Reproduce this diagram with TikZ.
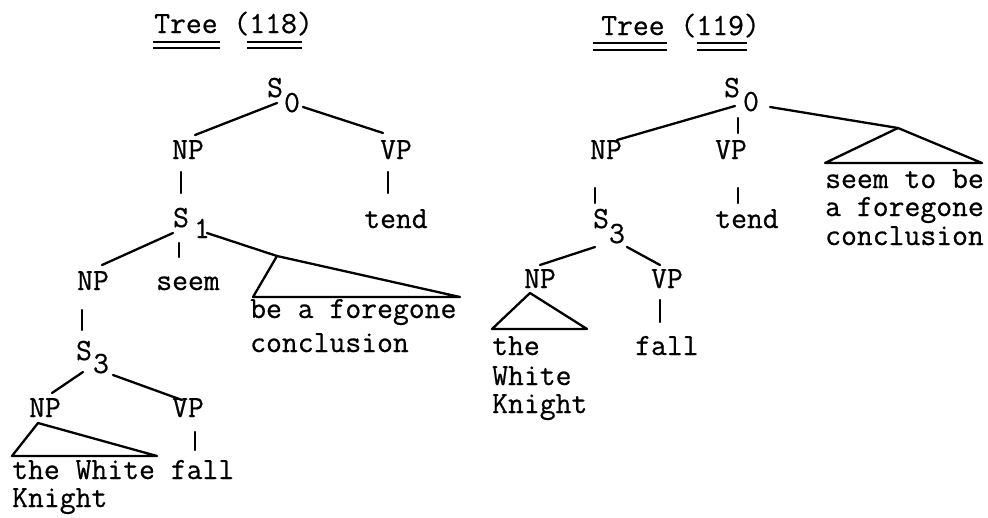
\documentclass[tikz,border=0pt]{standalone}
\usepackage{fontspec}
\newfontfamily\twfont[FakeBold=0.6]{Latin Modern Mono}
\begin{document}
\begin{tikzpicture}[x=1pt,y=-1pt,
  lab/.style={inner sep=0pt,anchor=base,font=\twfont\fontsize{30.8}{31}\selectfont},
  labw/.style={lab,anchor=base west},
  sub/.style={lab},
  edge/.style={line width=2.3pt,line cap=round,line join=round},
  uline/.style={line width=1.5pt}]
\useasboundingbox (0,0) rectangle (988,517);
\fill[white] (0,0) rectangle (988,517);

% ---------------- Tree (118) ----------------
\node[labw] (t1) at (154,33) {Tree (118)};
\draw[uline] (153,42) -- (220,42) (153,48) -- (220,48);
\draw[uline] (247,42) -- (302,42) (247,48) -- (302,48);

\node[lab] (a-s0) at (275,97) {S};
\node[sub] (a-s0i) at (292,112) {0};
\node[lab] (a-np1) at (188,159) {NP};
\node[lab] (a-vp1) at (396,159) {VP};
\node[lab] (a-s1) at (181,227) {S};
\node[sub] (a-s1i) at (202,238) {1};
\node[lab] (a-tend) at (396,228) {tend};
\node[lab] (a-np2) at (93,290) {NP};
\node[lab] (a-seem) at (188,290) {seem};
\node[labw] (a-be) at (250,318) {be a foregone};
\node[labw] (a-conc) at (250,352) {conclusion};
\node[lab] (a-s3) at (84,360) {S};
\node[sub] (a-s3i) at (101,373) {3};
\node[lab] (a-np3) at (45,417) {NP};
\node[lab] (a-vp3) at (188,417) {VP};
\node[labw] (a-the) at (12,479) {the White fall};
\node[labw] (a-kn) at (12,507) {Knight};

\coordinate (a1) at (277,103); \coordinate (a2) at (195,135);
\coordinate (a3) at (303,107); \coordinate (a4) at (383,133);
\coordinate (a5) at (181,172); \coordinate (a6) at (181,193);
\coordinate (a7) at (388,172); \coordinate (a8) at (388,193);
\coordinate (a9) at (173,233); \coordinate (a10) at (102,265);
\coordinate (a11) at (179,243); \coordinate (a12) at (179,257);
\coordinate (a13) at (207,233); \coordinate (a-apx) at (277,256);
\coordinate (a-tl) at (253,297); \coordinate (a-tr) at (460,297);
\coordinate (a14) at (82,310); \coordinate (a15) at (82,330);
\coordinate (a16) at (83,372); \coordinate (a17) at (52,393);
\coordinate (a18) at (113,375); \coordinate (a19) at (182,400);
\coordinate (a-bapx) at (38,423); \coordinate (a-btl) at (12,456); \coordinate (a-btr) at (157,456);
\coordinate (a20) at (195,432); \coordinate (a21) at (195,450);

\draw[edge] (a1) -- (a2);
\draw[edge] (a3) -- (a4);
\draw[edge] (a5) -- (a6);
\draw[edge] (a7) -- (a8);
\draw[edge] (a9) -- (a10);
\draw[edge] (a11) -- (a12);
\draw[edge] (a13) -- (a-apx);
\draw[edge] (a-apx) -- (a-tl) -- (a-tr) -- cycle;
\draw[edge] (a14) -- (a15);
\draw[edge] (a16) -- (a17);
\draw[edge] (a18) -- (a19);
\draw[edge] (a-bapx) -- (a-btl) -- (a-btr) -- cycle;
\draw[edge] (a20) -- (a21);

% ---------------- Tree (119) ----------------
\node[labw] (t2) at (601,35) {Tree (119)};
\draw[uline] (593,43) -- (667,43) (593,50) -- (667,50);
\draw[uline] (697,43) -- (747,43) (697,50) -- (747,50);

\node[lab] (b-s0) at (732,97) {S};
\node[sub] (b-s0i) at (751,111) {0};
\node[lab] (b-np1) at (606,159) {NP};
\node[lab] (b-vp1) at (731,159) {VP};
\node[lab] (b-s3) at (601,228) {S};
\node[sub] (b-s3i) at (617,243) {3};
\node[lab] (b-tend) at (747,228) {tend};
\node[labw] (b-seem) at (825,188) {seem to be};
\node[labw] (b-afore) at (825,216) {a foregone};
\node[labw] (b-conc) at (825,245) {conclusion};
\node[lab] (b-np2) at (540,288) {NP};
\node[lab] (b-vp2) at (667,288) {VP};
\node[labw] (b-the) at (492,355) {the};
\node[labw] (b-white) at (492,385) {White};
\node[labw] (b-kn) at (492,413) {Knight};
\node[labw] (b-fall) at (635,355) {fall};

\coordinate (b1) at (735,106); \coordinate (b2) at (617,140);
\coordinate (b3) at (738,118); \coordinate (b4) at (738,133);
\coordinate (b5) at (770,107); \coordinate (b-apx) at (898,128);
\coordinate (b-tl) at (825,163); \coordinate (b-tr) at (982,163);
\coordinate (b6) at (595,188); \coordinate (b7) at (595,203);
\coordinate (b8) at (738,188); \coordinate (b9) at (738,203);
\coordinate (b10) at (595,247); \coordinate (b11) at (540,265);
\coordinate (b12) at (627,247); \coordinate (b13) at (660,265);
\coordinate (b-bapx) at (530,293); \coordinate (b-btl) at (492,329); \coordinate (b-btr) at (587,329);
\coordinate (b14) at (660,300); \coordinate (b15) at (660,322);

\draw[edge] (b1) -- (b2);
\draw[edge] (b3) -- (b4);
\draw[edge] (b5) -- (b-apx);
\draw[edge] (b-apx) -- (b-tl) -- (b-tr) -- cycle;
\draw[edge] (b6) -- (b7);
\draw[edge] (b8) -- (b9);
\draw[edge] (b10) -- (b11);
\draw[edge] (b12) -- (b13);
\draw[edge] (b-bapx) -- (b-btl) -- (b-btr) -- cycle;
\draw[edge] (b14) -- (b15);
\end{tikzpicture}
\end{document}
